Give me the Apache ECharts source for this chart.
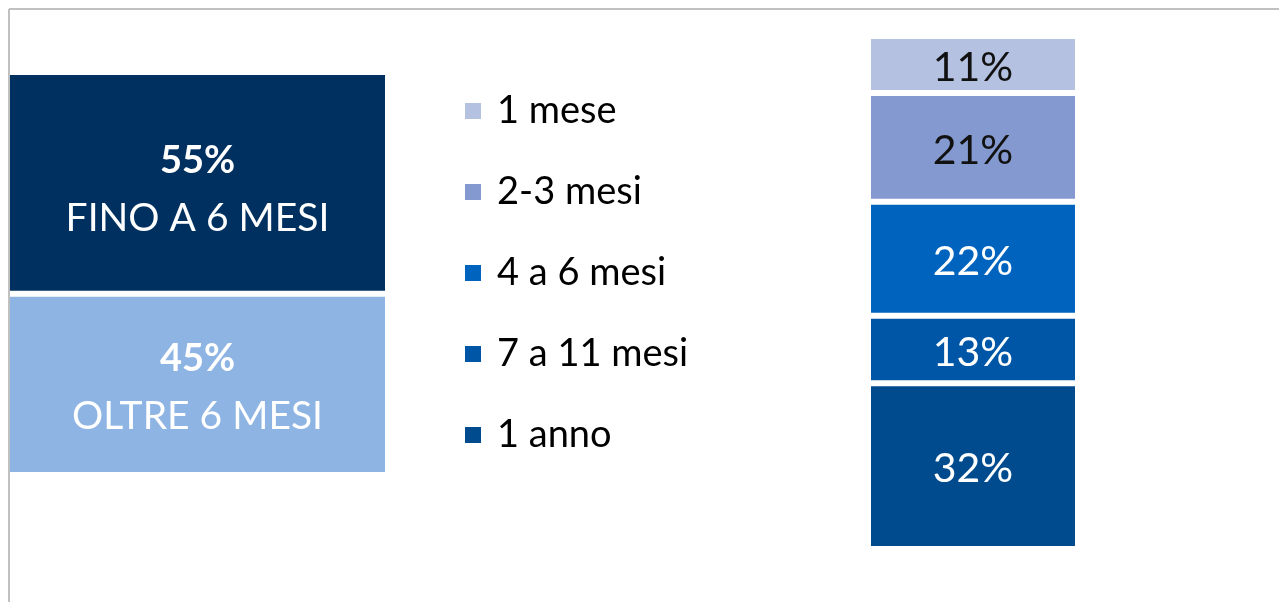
<!DOCTYPE html>
<html lang="it">
<head>
    <meta charset="UTF-8">
    <title>Durata</title>
    <script type="text/javascript" src="https://cdn.jsdelivr.net/npm/echarts@6/dist/echarts.min.js"></script>
    <style>
        html, body { margin: 0; padding: 0; background: #fff; }
    </style>
</head>
<body>
<div id="main" style="width:1279px;height:602px;"></div>
<script>
    // barra sinistra: fino a / oltre 6 mesi (dal basso verso l'alto)
    const leftNames = ['OLTRE 6 MESI', 'FINO A 6 MESI'];
    const leftValues = [45, 55];
    const leftColors = ['#8eb4e3', '#003060'];

    // barra destra: dettaglio durata (dal basso verso l'alto)
    const rightNames = ['1 anno', '7 a 11 mesi', '4 a 6 mesi', '2-3 mesi', '1 mese'];
    const rightValues = [32, 13, 22, 21, 11];
    const rightColors = ['#004b8d', '#0056a6', '#0063be', '#8499cf', '#b4c1e0'];
    const rightLabelColors = ['#fff', '#fff', '#fff', '#111', '#111'];

    const legendOrder = ['1 mese', '2-3 mesi', '4 a 6 mesi', '7 a 11 mesi', '1 anno'];

    let myChart = echarts.init(document.getElementById('main'));

    let series = [];
    leftNames.forEach((n, i) => {
        series.push({
            name: n,
            type: 'bar',
            stack: 'left',
            xAxisIndex: 0,
            yAxisIndex: 0,
            barWidth: '100%',
            data: [leftValues[i]],
            itemStyle: { color: leftColors[i], borderColor: '#fff', borderWidth: 3 },
            label: {
                show: true,
                position: 'inside',
                offset: [0, i === 1 ? 7 : 3],
                formatter: '{p|' + leftValues[i] + '%}\n{t|' + n + '}',
                rich: {
                    p: { color: '#fff', fontFamily: 'Lato', fontWeight: 'bold', fontSize: 38, lineHeight: 58 },
                    t: { color: '#fff', fontFamily: 'Lato', fontSize: 39, lineHeight: 58 }
                }
            },
            silent: true
        });
    });
    rightNames.forEach((n, i) => {
        series.push({
            name: n,
            type: 'bar',
            stack: 'right',
            xAxisIndex: 1,
            yAxisIndex: 1,
            barWidth: '100%',
            data: [rightValues[i]],
            itemStyle: { color: rightColors[i], borderColor: '#fff', borderWidth: 3 },
            label: {
                show: true,
                position: 'inside',
                offset: [0, 3],
                formatter: '{c}%',
                color: rightLabelColors[i],
                fontFamily: 'Lato',
                fontSize: 41
            },
            silent: true
        });
    });

    let option = {
        animation: false,
        backgroundColor: '#fff',
        grid: [
            { left: 7, top: 72, width: 381, height: 403 },
            { left: 868, top: 36, width: 210, height: 513 }
        ],
        xAxis: [
            { type: 'category', gridIndex: 0, data: [''], show: false },
            { type: 'category', gridIndex: 1, data: [''], show: false }
        ],
        yAxis: [
            { type: 'value', gridIndex: 0, min: 0, max: 100, show: false },
            { type: 'value', gridIndex: 1, min: 0, max: 99, show: false }
        ],
        legend: {
            data: legendOrder,
            orient: 'vertical',
            left: 463,
            top: 91,
            padding: 0,
            itemWidth: 18,
            itemHeight: 18,
            itemGap: 41,
            icon: 'rect',
            selectedMode: false,
            textStyle: {
                color: '#000',
                fontFamily: 'Lato',
                fontSize: 38,
                lineHeight: 40,
                padding: [0, 0, 0, 10]
            }
        },
        graphic: [
            { type: 'line', z: 100, shape: { x1: 9, y1: 9, x2: 1279, y2: 9 }, style: { stroke: '#c0c0c0', lineWidth: 2 } },
            { type: 'line', z: 100, shape: { x1: 9, y1: 9, x2: 9, y2: 602 }, style: { stroke: '#c0c0c0', lineWidth: 2 } }
        ],
        series: series
    };

    myChart.setOption(option);
</script>
</body>
</html>
